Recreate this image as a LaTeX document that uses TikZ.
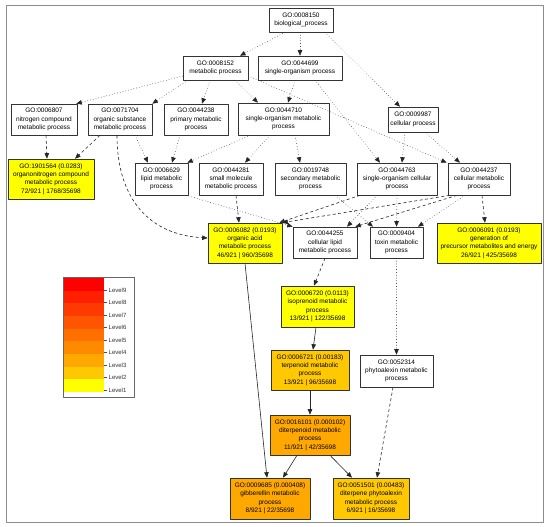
\documentclass[tikz,border=0pt]{standalone}
\usepackage{fontspec}
\setmainfont{Liberation Sans}
\usetikzlibrary{arrows.meta}
\definecolor{lev1}{HTML}{FFFF00}
\definecolor{lev2}{HTML}{FFC800}
\definecolor{lev3}{HTML}{FFA800}
\definecolor{lev4}{HTML}{FF8A00}
\definecolor{lev5}{HTML}{FF7000}
\definecolor{lev6}{HTML}{FF5500}
\definecolor{lev7}{HTML}{FF3A00}
\definecolor{lev8}{HTML}{FF2000}
\definecolor{lev9}{HTML}{FF0000}
\tikzset{
  term/.style={draw=black!80, line width=0.6pt, fill=white, inner sep=0pt, align=center,
    font=\fontsize{6.5}{8.4}\selectfont},
  isa/.style={-{Triangle[length=5.5pt,width=4.5pt]}, line width=0.6pt, draw=black!85},
  dotedge/.style={isa, line cap=round, dash pattern=on 0.2pt off 2.6pt},
  dashedge/.style={isa, dash pattern=on 3pt off 2.5pt},
}
\begin{document}
\begin{tikzpicture}[x=1pt, y=-1pt, line join=round]
    \fill[white] (0,0) rectangle (550,527);
    \useasboundingbox (0,0) rectangle (550,527);
    \draw[black!45, line width=0.8pt] (6,5) rectangle (543,522);
    % GO terms, row by row
    \node[term, minimum width=64pt, minimum height=24pt] (go8150) at (301,20) {GO:0008150\\biological\_process};
    \node[term, minimum width=65pt, minimum height=24pt] (go8152) at (215.5,68) {GO:0008152\\metabolic process};
    \node[term, minimum width=84pt, minimum height=24pt] (go44699) at (300,68) {GO:0044699\\single-organism process};
    \node[term, minimum width=66pt, minimum height=31pt] (go6807) at (44,119.5) {GO:0006807\\nitrogen compound\\metabolic process};
    \node[term, minimum width=64pt, minimum height=31pt] (go71704) at (120,119.5) {GO:0071704\\organic substance\\metabolic process};
    \node[term, minimum width=64pt, minimum height=31pt] (go44238) at (196,119.5) {GO:0044238\\primary metabolic\\process};
    \node[term, minimum width=91pt, minimum height=32pt] (go44710) at (283.5,119) {GO:0044710\\single-organism metabolic\\process};
    \node[term, minimum width=50pt, minimum height=25pt] (go9987) at (413,119.5) {GO:0009987\\cellular process};
    \node[term, fill=lev1, minimum width=86pt, minimum height=40pt] (go1901564) at (51,179) {GO:1901564 (0.0283)\\organonitrogen compound\\metabolic process\\72/921 | 1768/35698};
    \node[term, minimum width=53pt, minimum height=32pt] (go6629) at (161.5,179) {GO:0006629\\lipid metabolic\\process};
    \node[term, minimum width=64pt, minimum height=32pt] (go44281) at (231,179) {GO:0044281\\small molecule\\metabolic process};
    \node[term, minimum width=71pt, minimum height=32pt] (go19748) at (310.5,179) {GO:0019748\\secondary metabolic\\process};
    \node[term, minimum width=80pt, minimum height=32pt] (go44763) at (397,179) {GO:0044763\\single-organism cellular\\process};
    \node[term, minimum width=62pt, minimum height=32pt] (go44237) at (479,179) {GO:0044237\\cellular metabolic\\process};
    \node[term, fill=lev1, minimum width=74pt, minimum height=40pt] (go6082) at (245,243) {GO:0006082 (0.0193)\\organic acid\\metabolic process\\46/921 | 960/35698};
    \node[term, minimum width=64pt, minimum height=31pt] (go44255) at (325,242.5) {GO:0044255\\cellular lipid\\metabolic process};
    \node[term, minimum width=53pt, minimum height=31pt] (go9404) at (396.5,242.5) {GO:0009404\\toxin metabolic\\process};
    \node[term, fill=lev1, minimum width=104pt, minimum height=40pt] (go6091) at (489,243) {GO:0006091 (0.0193)\\generation of\\precursor metabolites and energy\\26/921 | 425/35698};
    \node[term, fill=lev1, minimum width=73pt, minimum height=41pt] (go6720) at (317.5,306.5) {GO:0006720 (0.0113)\\isoprenoid metabolic\\process\\13/921 | 122/35698};
    \node[term, fill=lev2, minimum width=78pt, minimum height=40pt] (go6721) at (310,370) {GO:0006721 (0.00183)\\terpenoid metabolic\\process\\13/921 | 96/35698};
    \node[term, minimum width=73pt, minimum height=32pt] (go52314) at (396.5,371) {GO:0052314\\phytoalexin metabolic\\process};
    \node[term, fill=lev3, minimum width=80pt, minimum height=40pt] (go16101) at (310,435) {GO:0016101 (0.000102)\\diterpenoid metabolic\\process\\11/921 | 42/35698};
    \node[term, fill=lev3, minimum width=80pt, minimum height=41pt] (go9685) at (270,498.5) {GO:0009685 (0.000408)\\gibberellin metabolic\\process\\8/921 | 22/35698};
    \node[term, fill=lev2, minimum width=76pt, minimum height=41pt] (go51501) at (371,498.5) {GO:0051501 (0.00483)\\diterpene phytoalexin\\metabolic process\\6/921 | 16/35698};
    % edges
    \draw[dotedge] ([xshift=-16pt]go8150.south) -- ([xshift=24.5pt]go8152.north);
    \draw[dotedge] ([xshift=-1pt]go8150.south) -- (go44699.north);
    \draw[dotedge] ([xshift=24pt]go8150.south) -- ([xshift=-13pt]go9987.north);
    \draw[dotedge] ([yshift=-8pt]go8152.west) -- ([xshift=-1pt]go6807.north east);
    \draw[dotedge] ([xshift=5pt]go8152.south west) -- (go71704.north east);
    \draw[dotedge] ([xshift=-5.5pt]go8152.south) -- ([xshift=6pt]go44238.north);
    \draw[dotedge] ([xshift=19.5pt]go8152.south) -- ([xshift=-25.5pt]go44710.north);
    \draw[dotedge] ([yshift=-8pt]go8152.east) -- ([xshift=-1pt]go44237.north west);
    \draw[dotedge] ([xshift=-5pt]go44699.south) -- ([xshift=4.5pt]go44710.north);
    \draw[dotedge] ([xshift=15pt]go44699.south) -- ([xshift=-17pt]go44763.north);
    \draw[dotedge] ([xshift=-8pt]go9987.south) -- ([xshift=5pt]go44763.north);
    \draw[dotedge] ([xshift=12pt]go9987.south) -- ([xshift=-19pt]go44237.north);
    \draw[dashedge] ([xshift=2pt]go6807.south) -- ([xshift=-4pt]go1901564.north);
    \draw[dashedge] ([xshift=-20pt]go71704.south) -- ([xshift=24pt]go1901564.north);
    \draw[dotedge] ([xshift=15pt]go71704.south) -- ([xshift=-13.5pt]go6629.north);
    \draw[dashedge] ([xshift=-3pt]go71704.south) .. controls +(0,65) and +(-57,-3) .. ([yshift=5pt]go6082.west);
    \draw[dotedge] ([xshift=-16pt]go44238.south) -- ([xshift=10.5pt]go6629.north);
    \draw[dotedge] ([xshift=-33.5pt]go44710.south) -- ([xshift=-1pt]go6629.north east);
    \draw[dotedge] ([xshift=-13.5pt]go44710.south) -- ([xshift=14pt]go44281.north);
    \draw[dotedge] ([xshift=11.5pt]go44710.south) -- ([xshift=-10.5pt]go19748.north);
    \draw[dotedge] ([xshift=-2pt]go6629.south east) -- (go44255.north west);
    \draw[dashedge] ([xshift=5pt]go44281.south) -- ([xshift=-6pt]go6082.north);
    \draw[dotedge] ([xshift=24.5pt]go19748.south) -- ([xshift=-23.5pt]go9404.north);
    \draw[dashedge] ([xshift=-37pt]go44763.south) -- ([xshift=-3pt]go6082.north east);
    \draw[dotedge] ([xshift=-20pt]go44763.south) -- ([xshift=22pt]go44255.north);
    \draw[dotedge] (go44763.south) -- (go9404.north);
    \draw[dashedge] ([xshift=2pt]go44237.south west) -- (go6082.north east);
    \draw[dashedge] ([xshift=-22pt]go44237.south) -- ([xshift=-2pt]go44255.north east);
    \draw[dotedge] ([xshift=-14pt]go44237.south) -- ([xshift=21.5pt]go9404.north);
    \draw[dashedge] ([xshift=3pt]go44237.south) -- ([xshift=-4pt]go6091.north);
    \draw[dashedge] (go44255.south) -- ([xshift=-3.5pt]go6720.north);
    \draw[dotedge] (go9404.south) -- (go52314.north);
    \draw[isa] ([xshift=-1.5pt]go6720.south) -- ([xshift=3pt]go6721.north);
    \draw[isa] (go6721.south) -- (go16101.north);
    \draw[isa] (go6082.south) -- ([xshift=-3pt]go9685.north);
    \draw[isa] ([xshift=-13pt]go16101.south) -- ([xshift=13pt]go9685.north);
    \draw[isa] ([xshift=20pt]go16101.south) -- ([xshift=-19pt]go51501.north);
    \draw[dashedge] ([xshift=-3.5pt]go52314.south) -- ([xshift=6pt]go51501.north);
    % level legend
    \draw[black!60, line width=0.6pt] (63,277) rectangle (134,397);
    \foreach \k in {1,...,9} {
      \fill[lev\k] (64,{278+(9-\k)*12.67}) rectangle (104,{278+(10-\k)*12.67});
      \draw[black!70, line width=0.4pt] (104,{290+(9-\k)*12.5}) -- (107,{290+(9-\k)*12.5})
        node[anchor=west, inner sep=1.5pt, text=black!80, font=\fontsize{6}{7}\selectfont] (level\k) {Level\k};
    }
\end{tikzpicture}
\end{document}
